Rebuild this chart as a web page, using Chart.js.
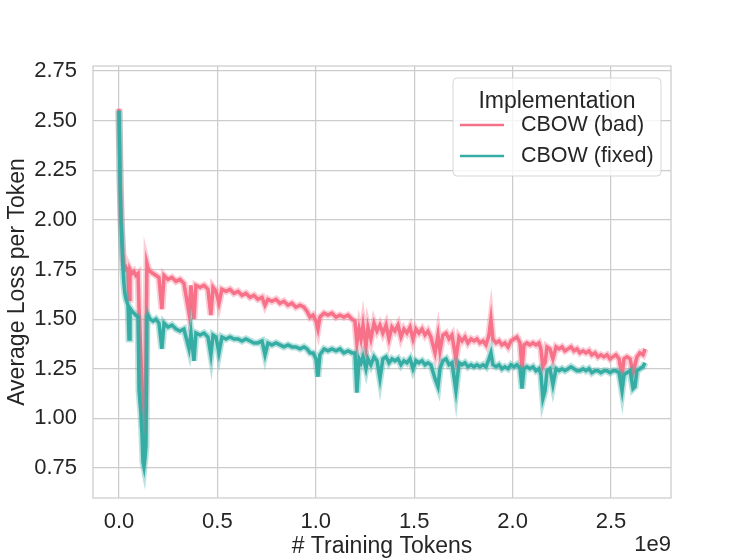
<!DOCTYPE html>
<html>
<head>
<meta charset="utf-8">
<script src="https://cdn.jsdelivr.net/npm/chart.js@4.4.1/dist/chart.umd.min.js"></script>
<style>
  body { margin: 0; background: #fff; }
</style>
</head>
<body>
<canvas id="myChart" width="747" height="560"></canvas>
<script>
// Datos (x en unidades de 1e9 tokens)
var tokens = [
  0.000, 0.005, 0.010, 0.015, 0.020, 0.025, 0.030, 0.036, 0.046, 0.051,
  0.056, 0.066, 0.076, 0.086, 0.097, 0.102, 0.112, 0.117, 0.122, 0.127,
  0.132, 0.137, 0.142, 0.147, 0.158, 0.173, 0.188, 0.203, 0.218, 0.229,
  0.249, 0.269, 0.290, 0.310, 0.330, 0.356, 0.366, 0.381, 0.391, 0.412,
  0.432, 0.452, 0.467, 0.478, 0.493, 0.508, 0.523, 0.544, 0.564, 0.584,
  0.605, 0.625, 0.645, 0.666, 0.686, 0.706, 0.727, 0.742, 0.757, 0.777,
  0.798, 0.818, 0.838, 0.859, 0.879, 0.899, 0.920, 0.940, 0.955, 0.971,
  0.986, 1.001, 1.011, 1.021, 1.042, 1.062, 1.082, 1.103, 1.123, 1.143,
  1.164, 1.184, 1.199, 1.209, 1.220, 1.230, 1.240, 1.255, 1.265, 1.280,
  1.296, 1.311, 1.326, 1.341, 1.357, 1.372, 1.387, 1.402, 1.418, 1.433,
  1.448, 1.463, 1.479, 1.494, 1.509, 1.524, 1.540, 1.555, 1.570, 1.585,
  1.606, 1.621, 1.631, 1.646, 1.662, 1.677, 1.692, 1.712, 1.728, 1.743,
  1.758, 1.773, 1.789, 1.804, 1.819, 1.834, 1.850, 1.865, 1.880, 1.890,
  1.900, 1.916, 1.931, 1.946, 1.961, 1.977, 1.992, 2.007, 2.022, 2.038,
  2.048, 2.058, 2.073, 2.088, 2.104, 2.119, 2.134, 2.144, 2.154, 2.165,
  2.175, 2.190, 2.205, 2.221, 2.236, 2.251, 2.266, 2.282, 2.297, 2.312,
  2.327, 2.342, 2.358, 2.373, 2.388, 2.403, 2.419, 2.434, 2.449, 2.464,
  2.480, 2.495, 2.510, 2.525, 2.541, 2.556, 2.566, 2.581, 2.597, 2.612,
  2.622, 2.632, 2.647, 2.663, 2.673
];
var lossBad = [
  2.56, 2.25, 2.05, 1.92, 1.82, 1.77, 1.75, 1.76, 1.74, 1.60,
  1.75, 1.73, 1.74, 1.72, 1.73, 1.55, 1.30, 1.10, 0.96, 0.93,
  1.05, 1.30, 1.78, 1.76, 1.74, 1.73, 1.72, 1.71, 1.55, 1.72,
  1.70, 1.71, 1.69, 1.70, 1.68, 1.53, 1.67, 1.50, 1.67, 1.66,
  1.67, 1.65, 1.52, 1.66, 1.64, 1.58, 1.65, 1.64, 1.65, 1.63,
  1.64, 1.62, 1.63, 1.61, 1.62, 1.60, 1.61, 1.57, 1.60, 1.59,
  1.60, 1.58, 1.59, 1.57, 1.58, 1.56, 1.57, 1.56, 1.54, 1.51,
  1.52, 1.49, 1.45, 1.51, 1.53, 1.52, 1.53, 1.51, 1.52, 1.51,
  1.52, 1.50, 1.49, 1.38, 1.45, 1.40, 1.47, 1.36, 1.46, 1.40,
  1.48, 1.44, 1.47, 1.43, 1.47, 1.40, 1.46, 1.44, 1.47, 1.41,
  1.45, 1.43, 1.46, 1.40, 1.45, 1.43, 1.45, 1.42, 1.44, 1.41,
  1.33, 1.42, 1.34, 1.42, 1.43, 1.40, 1.42, 1.30, 1.41, 1.39,
  1.41, 1.38, 1.40, 1.39, 1.40, 1.38, 1.39, 1.37, 1.42, 1.50,
  1.40, 1.38, 1.39, 1.37, 1.38, 1.36, 1.39, 1.40, 1.41, 1.38,
  1.25, 1.37, 1.38, 1.37, 1.38, 1.37, 1.38, 1.35, 1.26, 1.28,
  1.36, 1.35, 1.30, 1.36, 1.35, 1.36, 1.34, 1.35, 1.36, 1.34,
  1.35, 1.33, 1.34, 1.33, 1.34, 1.32, 1.33, 1.31, 1.32, 1.31,
  1.32, 1.30, 1.31, 1.32, 1.30, 1.21, 1.30, 1.31, 1.30, 1.23,
  1.27, 1.31, 1.33, 1.32, 1.35
];
var lossFixed = [
  2.55, 2.22, 2.00, 1.88, 1.76, 1.68, 1.63, 1.60, 1.57, 1.40,
  1.555, 1.54, 1.53, 1.52, 1.51, 1.14, 1.02, 0.92, 0.78, 0.755,
  0.80, 0.86, 1.50, 1.52, 1.50, 1.49, 1.50, 1.48, 1.35, 1.48,
  1.46, 1.47, 1.45, 1.44, 1.45, 1.35, 1.43, 1.29, 1.43, 1.42,
  1.43, 1.41, 1.32, 1.42, 1.41, 1.33, 1.41, 1.40, 1.41, 1.40,
  1.40, 1.39, 1.40, 1.39, 1.38, 1.38, 1.39, 1.32, 1.38, 1.37,
  1.38, 1.37, 1.36, 1.37, 1.36, 1.36, 1.35, 1.36, 1.35, 1.33,
  1.33, 1.30, 1.21, 1.32, 1.35, 1.34, 1.35, 1.34, 1.35, 1.33,
  1.34, 1.33, 1.33, 1.13, 1.30, 1.28, 1.31, 1.25, 1.30, 1.27,
  1.31, 1.29, 1.20, 1.30, 1.31, 1.28, 1.30, 1.29, 1.30, 1.27,
  1.29, 1.28, 1.30, 1.25, 1.29, 1.28, 1.29, 1.27, 1.28, 1.27,
  1.20, 1.16, 1.25, 1.29, 1.30, 1.27, 1.28, 1.14, 1.28, 1.27,
  1.28, 1.26, 1.27, 1.26, 1.27, 1.26, 1.27, 1.26, 1.30, 1.33,
  1.27, 1.26, 1.27, 1.25, 1.26, 1.25, 1.27, 1.26, 1.27, 1.25,
  1.15, 1.25, 1.26, 1.25, 1.26, 1.24, 1.25, 1.22, 1.10, 1.14,
  1.24, 1.25, 1.17, 1.25, 1.24, 1.25, 1.24, 1.25, 1.26, 1.25,
  1.24, 1.24, 1.25, 1.24, 1.25, 1.23, 1.24, 1.24, 1.23, 1.24,
  1.24, 1.23, 1.24, 1.24, 1.23, 1.14, 1.22, 1.23, 1.24, 1.15,
  1.16, 1.24, 1.25, 1.26, 1.28
];
var xTicks = [0, 0.5, 1.0, 1.5, 2.0, 2.5];
var yTicks = [0.75, 1.00, 1.25, 1.50, 1.75, 2.00, 2.25, 2.50, 2.75];
var seriesNames = ['CBOW (bad)', 'CBOW (fixed)'];
var seriesColors = ['#f77189', '#36ada4'];
var legendTitle = 'Implementation';
var xLabel = '# Training Tokens';
var yLabel = 'Average Loss per Token';
var xOffsetText = '1e9';

var FONT = '"Liberation Sans", Arial, sans-serif';
var FSIZE = 23;
var TEXT = '#262626';
var GRID = '#cccccc';

function puntos(ys) {
    return tokens.map(function (t, i) { return { x: t, y: ys[i] }; });
}

function alpha(hex, a) {
    var r = parseInt(hex.slice(1, 3), 16), g = parseInt(hex.slice(3, 5), 16), b = parseInt(hex.slice(5, 7), 16);
    return 'rgba(' + r + ',' + g + ',' + b + ',' + a + ')';
}

var series = [lossBad, lossFixed];
var datasets = [];
series.forEach(function (ys, i) {
    // banda clara debajo de la linea
    datasets.push({
        label: seriesNames[i] + ' band',
        data: puntos(ys),
        borderColor: alpha(seriesColors[i], 0.35),
        borderWidth: 7,
        pointRadius: 0,
        tension: 0,
        order: 4 - i * 2
    });
    datasets.push({
        label: seriesNames[i],
        data: puntos(ys),
        borderColor: seriesColors[i],
        borderWidth: 3.5,
        pointRadius: 0,
        tension: 0,
        order: 3 - i * 2
    });
});

// Marco, leyenda y texto 1e9
var extras = {
    id: 'extras',
    afterDraw: function (chart) {
        var ctx = chart.ctx, a = chart.chartArea;
        ctx.save();
        ctx.strokeStyle = GRID;
        ctx.lineWidth = 1.25;
        ctx.strokeRect(a.left, a.top, a.right - a.left, a.bottom - a.top);

        // leyenda
        var bx = a.right - 218, by = a.top + 12, bw = 208, bh = 98;
        ctx.beginPath();
        ctx.roundRect(bx, by, bw, bh, 4);
        ctx.fillStyle = 'rgba(255,255,255,0.8)';
        ctx.fill();
        ctx.strokeStyle = 'rgba(204,204,204,0.8)';
        ctx.lineWidth = 1;
        ctx.stroke();

        ctx.fillStyle = TEXT;
        ctx.font = FSIZE + 'px ' + FONT;
        ctx.textAlign = 'center';
        ctx.textBaseline = 'middle';
        ctx.fillText(legendTitle, bx + bw / 2, by + 24);
        ctx.textAlign = 'left';
        ctx.font = '21.5px ' + FONT;
        seriesNames.forEach(function (name, i) {
            var ly = by + 47 + i * 31;
            ctx.strokeStyle = seriesColors[i];
            ctx.lineWidth = 2.5;
            ctx.beginPath();
            ctx.moveTo(bx + 7, ly);
            ctx.lineTo(bx + 51, ly);
            ctx.stroke();
            ctx.fillText(name, bx + 68, ly);
        });

        ctx.font = '22px ' + FONT;
        ctx.textAlign = 'right';
        ctx.fillText(xOffsetText, a.right, 545);
        ctx.restore();
    }
};

var ctx = document.getElementById('myChart').getContext('2d');
var myChart = new Chart(ctx, {
    type: 'line',
    data: { datasets: datasets },
    plugins: [extras],
    options: {
        responsive: false,
        animation: false,
        devicePixelRatio: 1,
        layout: { padding: { top: 66, right: 76, left: 0, bottom: 0 } },
        plugins: {
            legend: { display: false },
            tooltip: { enabled: false }
        },
        scales: {
            x: {
                type: 'linear',
                min: -0.132,
                max: 2.805,
                afterBuildTicks: function (scale) {
                    scale.ticks = xTicks.map(function (v) { return { value: v }; });
                },
                afterFit: function (scale) { scale.height = 62; },
                grid: { color: GRID, lineWidth: 1.25, drawTicks: false },
                border: { display: false },
                ticks: {
                    color: TEXT,
                    font: { family: FONT, size: 22 },
                    padding: 11,
                    maxRotation: 0,
                    callback: function (v) { return v.toFixed(1); }
                },
                title: {
                    display: true,
                    text: xLabel,
                    color: TEXT,
                    font: { family: FONT, size: FSIZE },
                    padding: { top: 0, bottom: 0 }
                }
            },
            y: {
                min: 0.599,
                max: 2.775,
                afterBuildTicks: function (scale) {
                    scale.ticks = yTicks.map(function (v) { return { value: v }; });
                },
                afterFit: function (scale) { scale.width = 93; },
                grid: { color: GRID, lineWidth: 1.25, drawTicks: false },
                border: { display: false },
                ticks: {
                    color: TEXT,
                    font: { family: FONT, size: 22 },
                    padding: 16,
                    callback: function (v) { return v.toFixed(2); }
                },
                title: {
                    display: true,
                    text: yLabel,
                    color: TEXT,
                    font: { family: FONT, size: FSIZE },
                    padding: { top: 4, bottom: 4 }
                }
            }
        }
    }
});
</script>
</body>
</html>
